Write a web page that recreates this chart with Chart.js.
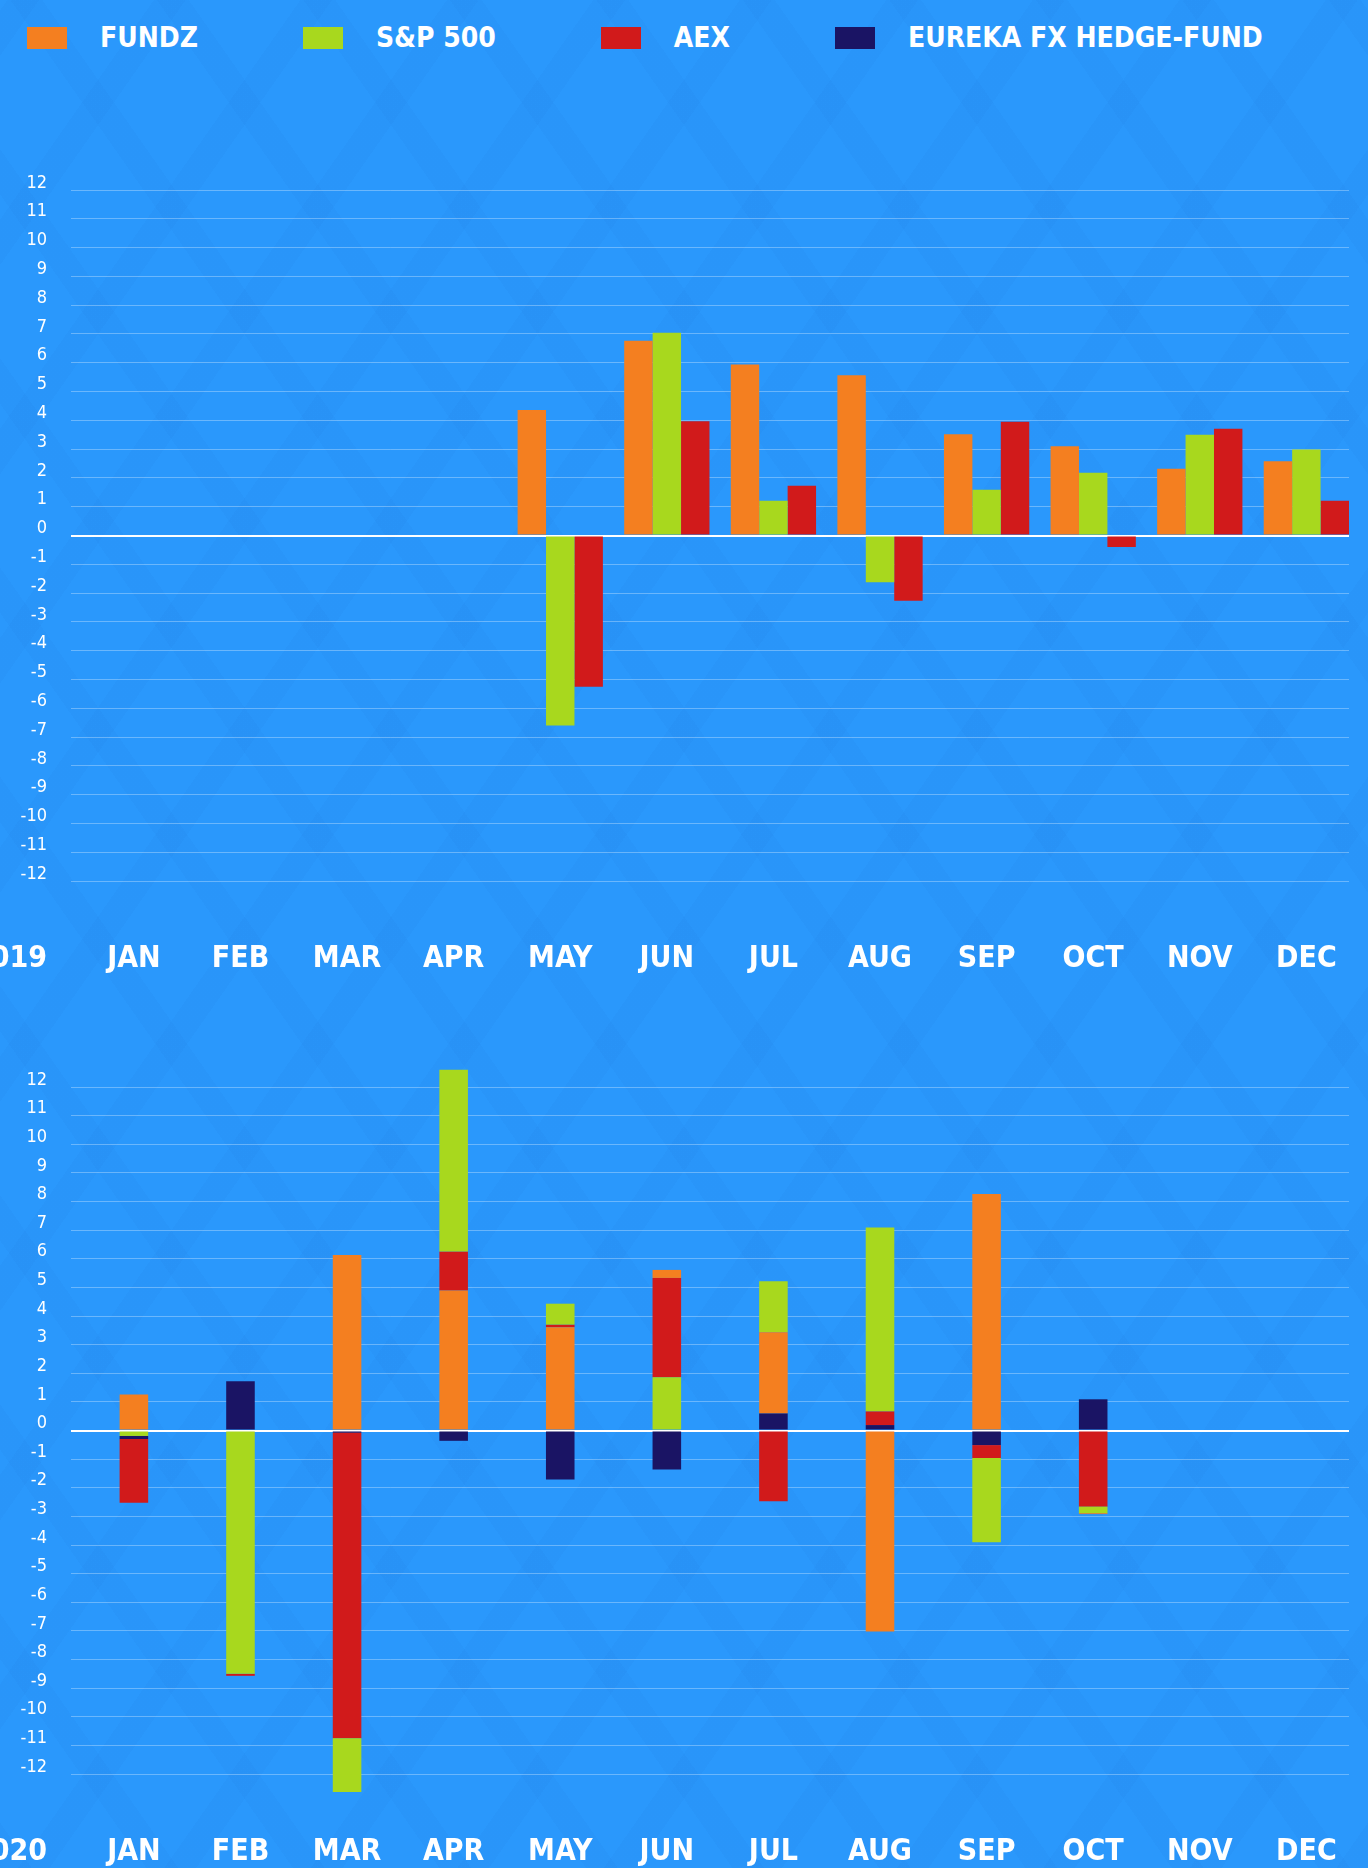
<!DOCTYPE html>
<html>
<head>
<meta charset="utf-8">
<title>Fund returns 2019 - 2020</title>
<script src="https://cdn.jsdelivr.net/npm/chart.js@4"></script>
<style>
  html, body { margin: 0; padding: 0; }
  body {
    width: 1368px;
    height: 1868px;
    overflow: hidden;
    position: relative;
    background-color: #2a98fc;
    background-image:
      repeating-linear-gradient(55deg, rgba(10, 60, 160, 0.03) 0 26px, transparent 26px 120px),
      repeating-linear-gradient(-55deg, rgba(10, 60, 160, 0.03) 0 26px, transparent 26px 120px);
    font-family: "DejaVu Sans Condensed", "Liberation Sans Narrow", Roboto, sans-serif;
  }
  #legend {
    position: absolute;
    left: 27px;
    top: 27px;
    display: flex;
    gap: 105px;
  }
  .item {
    display: flex;
    align-items: center;
    color: #fff;
    font-weight: bold;
    font-size: 28px;
    line-height: 22px;
  }
  .swatch { width: 40px; height: 22px; margin-right: 33px; }
  .chart-box { position: absolute; left: 0; width: 1368px; }
  #box2019 { top: 140px; height: 860px; }
  #box2020 { top: 1000px; height: 870px; }
</style>
</head>
<body>
<div id="legend"></div>
<div class="chart-box" id="box2019"><canvas id="chart2019"></canvas></div>
<div class="chart-box" id="box2020"><canvas id="chart2020"></canvas></div>

<script>
// Month labels on the x axis
const months = ["JAN", "FEB", "MAR", "APR", "MAY", "JUN", "JUL", "AUG", "SEP", "OCT", "NOV", "DEC"];

// Series names and colours (legend order)
const seriesNames = ["FUNDZ", "S&P 500", "AEX", "EUREKA FX HEDGE-FUND"];
const seriesColors = ["#f47f20", "#a8d81e", "#d11a1b", "#1a1464"];

// y axis range, one tick per unit
const yMin = -12;
const yMax = 12;

// 2019 monthly returns (%)
const fundz2019 = [null, null, null, null, 4.36, 6.76, 5.94, 5.57, 3.52, 3.1, 2.32, 2.58];
const sp5002019 = [null, null, null, null, -6.6, 7.04, 1.21, -1.62, 1.59, 2.18, 3.5, 2.99];
const aex2019 = [null, null, null, null, -5.25, 3.97, 1.73, -2.27, 3.95, -0.4, 3.71, 1.21];

// 2020 monthly returns (%)
const fundz2020 = [1.26, null, 6.13, 4.89, 3.61, 5.61, 3.43, -7.02, 8.26, -2.92, null, null];
const sp5002020 = [-0.19, -8.5, -12.63, 12.6, 4.43, 1.86, 5.21, 7.09, -3.9, -2.89, null, null];
const aex2020 = [-2.52, -8.57, -10.75, 6.25, 3.7, 5.33, -2.47, 0.67, -0.96, -2.66, null, null];
const eureka2020 = [-0.3, 1.72, -0.08, -0.36, -1.71, -1.36, 0.6, 0.19, -0.51, 1.09, null, null];

// Fonts used by the canvas text
const fontFamily = "'DejaVu Sans Condensed', 'Liberation Sans Narrow', Roboto, sans-serif";
const tickFont = { family: fontFamily, size: 18 };
const monthFont = { family: fontFamily, size: 30, weight: "bold", lineHeight: 1.2 };
const monthPadding = 60;

// Build the legend from the series
const legend = document.getElementById("legend");
seriesNames.forEach((name, i) => {
  const item = document.createElement("div");
  item.className = "item";
  const swatch = document.createElement("span");
  swatch.className = "swatch";
  swatch.style.background = seriesColors[i];
  item.appendChild(swatch);
  item.appendChild(document.createTextNode(name));
  legend.appendChild(item);
});

// Draws the year in the y-label column, on the month label row
const yearLabel = {
  id: "yearLabel",
  afterDraw(chart, args, opts) {
    const xScale = chart.scales.x;
    const yScale = chart.scales.y;
    const lineHeight = monthFont.size * monthFont.lineHeight;
    const ctx = chart.ctx;
    ctx.save();
    ctx.font = monthFont.weight + " " + monthFont.size + "px " + monthFont.family;
    ctx.fillStyle = "#fff";
    ctx.textAlign = "right";
    ctx.textBaseline = "middle";
    ctx.fillText(
      opts.text,
      yScale.right - yScale.options.ticks.padding,
      xScale.top + monthPadding + lineHeight / 2
    );
    ctx.restore();
  },
};

// In the 2020 chart the bars overlap from zero, the larger one behind:
// each series shows from the next smaller value of the same sign to its own value
function visibleSegment(allSeries, s, m) {
  const v = allSeries[s][m];
  if (v === null) return null;
  let edge = 0;
  allSeries.forEach((other, o) => {
    const w = other[m];
    if (o === s || w === null) return;
    if (v > 0 && w > 0 && w < v) edge = Math.max(edge, w);
    if (v < 0 && w < 0 && w > v) edge = Math.min(edge, w);
  });
  return [edge, v];
}

function makeChart(canvasId, year, datasets, padTop, padBottom, xStacked, barPct) {
  return new Chart(document.getElementById(canvasId), {
    type: "bar",
    data: { datasets: datasets },
    options: {
      responsive: true,
      maintainAspectRatio: false,
      animation: false,
      categoryPercentage: 0.8,
      barPercentage: barPct,
      layout: { padding: { top: padTop, bottom: padBottom, left: 0, right: 19 } },
      plugins: {
        legend: { display: false },
        tooltip: { enabled: false },
        yearLabel: { text: year },
      },
      scales: {
        x: {
          type: "linear",
          offset: false,
          min: 0.41,
          max: 12.4,
          stacked: xStacked,
          grid: { display: false, drawTicks: false },
          border: { display: false },
          afterBuildTicks: function (scale) {
            scale.ticks = months.map((m, i) => ({ value: i + 1 }));
          },
          afterFit: function (scale) {
            scale.height = monthPadding + monthFont.size * monthFont.lineHeight;
            scale.paddingLeft = 0;
            scale.paddingRight = 0;
          },
          ticks: {
            autoSkip: false,
            maxRotation: 0,
            padding: monthPadding,
            color: "#fff",
            font: monthFont,
            callback: function (value, index) {
              return months[index];
            },
          },
        },
        y: {
          min: yMin,
          max: yMax,
          stacked: false,
          afterFit: function (scale) {
            scale.width = 71;
          },
          border: { display: false },
          grid: {
            drawTicks: false,
            color: (c) => (c.tick.value === 0 ? "#ffffff" : "rgba(255, 255, 255, 0.3)"),
            lineWidth: (c) => (c.tick.value === 0 ? 2 : 1),
          },
          ticks: {
            stepSize: 1,
            padding: 24,
            labelOffset: -7,
            color: "#fff",
            font: tickFont,
          },
        },
      },
    },
    plugins: [yearLabel],
  });
}

// 2019: grouped bars
const series2019 = [fundz2019, sp5002019, aex2019];
const datasets2019 = series2019.map((values, s) => ({
  label: seriesNames[s],
  data: values.map((v, m) => ({ x: m + 1, y: v })),
  backgroundColor: seriesColors[s],
}));

// 2020: overlapping bars, one column per month
const series2020 = [fundz2020, sp5002020, aex2020, eureka2020];
const datasets2020 = series2020.map((values, s) => ({
  label: seriesNames[s],
  data: values.map((v, m) => ({ x: m + 1, y: visibleSegment(series2020, s, m) })),
  backgroundColor: seriesColors[s],
  clip: false,
}));

makeChart("chart2019", "2019", datasets2019, 50, 23, false, 1.0);
makeChart("chart2020", "2020", datasets2020, 87, 0, true, 0.335);
</script>
</body>
</html>
